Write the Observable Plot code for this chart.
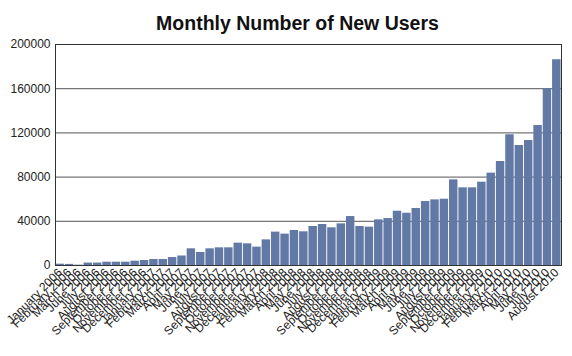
<!DOCTYPE html>
<html>
<head>
<meta charset="utf-8">
<script src="https://cdn.jsdelivr.net/npm/d3@7"></script>
<script src="https://cdn.jsdelivr.net/npm/@observablehq/plot@0.6"></script>
<style>
  html, body { margin: 0; padding: 0; background: #fff; }
  #chart { width: 572px; height: 356px; }
</style>
</head>
<body>
<div id="chart"></div>
<script>
const title = "Monthly Number of New Users";

const months = [
  "January 2006", "February 2006", "March 2006", "June 2006", "July 2006",
  "August 2006", "September 2006", "October 2006", "November 2006", "December 2006",
  "January 2007", "February 2007", "March 2007", "April 2007", "May 2007", "June 2007",
  "July 2007", "August 2007", "September 2007", "October 2007", "November 2007", "December 2007",
  "January 2008", "February 2008", "March 2008", "April 2008", "May 2008", "June 2008",
  "July 2008", "August 2008", "September 2008", "October 2008", "November 2008", "December 2008",
  "January 2009", "February 2009", "March 2009", "April 2009", "May 2009", "June 2009",
  "July 2009", "August 2009", "September 2009", "October 2009", "November 2009", "December 2009",
  "January 2010", "February 2010", "March 2010", "April 2010", "May 2010", "June 2010",
  "July 2010", "August 2010"
];

const newUsers = [
  1200, 1000, 300, 2200, 2200, 3000, 3000, 3000, 3900, 4500,
  5400, 5400, 7200, 8600, 15100, 11800, 15100, 16000, 16000, 20200, 19600, 16600,
  23200, 30200, 28400, 31700, 30500, 35300, 37100, 34100, 37700, 44300, 35300, 34700,
  41300, 42500, 49100, 47300, 51600, 57900, 59400, 60000, 77500, 70300, 70300, 75400,
  83600, 94100, 118300, 108600, 113100, 126700, 160000, 186200
];

const yTicks = [0, 40000, 80000, 120000, 160000, 200000];
const gridValues = [40000, 80000, 120000, 160000];

const data = months.map((m, i) => ({month: m, users: newUsers[i]}));

const chart = Plot.plot({
  width: 572,
  height: 356,
  marginLeft: 55,
  marginRight: 11,
  marginTop: 44,
  marginBottom: 91,
  style: {fontFamily: "'Liberation Sans', Arial, sans-serif", background: "#fff", color: "#222"},
  x: {domain: months, paddingInner: 0.1, paddingOuter: 0.05, round: false, label: null},
  y: {domain: [0, 200000], label: null},
  marks: [
    Plot.ruleY(gridValues, {stroke: "#555", strokeWidth: 1}),
    Plot.barY(data, {x: "month", y: "users", fill: "#6279a5"}),
    Plot.frame({stroke: "#333"}),
    Plot.axisY({ticks: yTicks, tickFormat: d3.format("d"), tickSize: 0, tickPadding: 5, fontSize: 12, label: null}),
    Plot.axisX({tickRotate: -45, tickSize: 0, tickPadding: 5, fontSize: 12, label: null}),
    Plot.text([title], {frameAnchor: "top", dy: -15, dx: -11, lineAnchor: "bottom", fontSize: 19.5, fontWeight: "bold", fill: "#111"})
  ]
});

document.getElementById("chart").appendChild(chart);
</script>
</body>
</html>
